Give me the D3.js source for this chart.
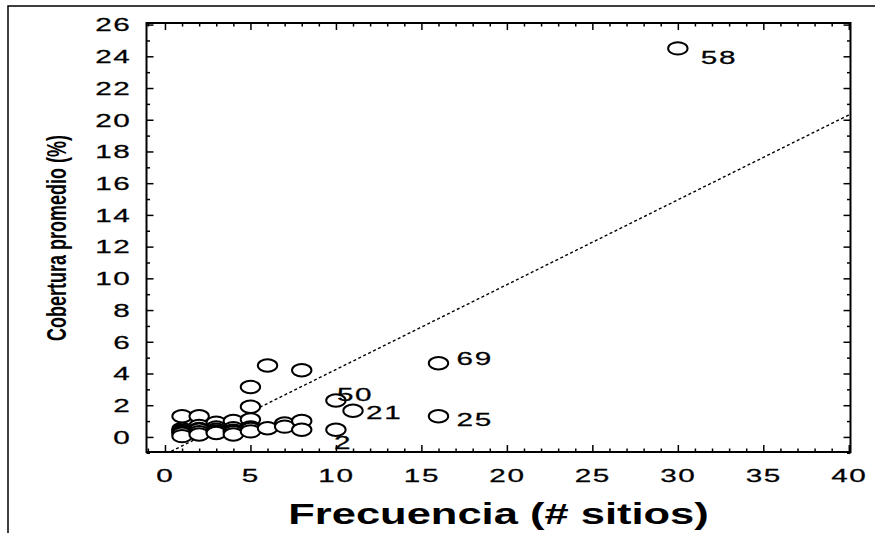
<!DOCTYPE html>
<html>
<head>
<meta charset="utf-8">
<script src="https://cdn.jsdelivr.net/npm/d3@7"></script>
<style>
  body { margin: 0; background: #fff; }
  text { font-family: "Liberation Sans", Arial, Helvetica, sans-serif; fill: #000; }
</style>
</head>
<body>
<div id="chart"></div>
<script>
const width = 875;
const height = 533;

// datos: frecuencia (# sitios) y cobertura promedio (%)
const frecuencia = [1, 1, 1, 1, 1, 1, 1,
  2, 2, 2, 2, 2, 2,
  3, 3, 3, 3, 3,
  4, 4, 4, 4, 4,
  5, 5, 5, 5, 5, 5,
  6, 6,
  7, 7,
  8, 8, 8,
  10, 10, 11, 16, 16, 30];
const cobertura = [1.3, 0.5, 0.4, 0.35, 0.3, 0.2, 0.05,
  1.3, 0.7, 0.5, 0.45, 0.3, 0.15,
  0.9, 0.6, 0.45, 0.35, 0.25,
  1.0, 0.55, 0.4, 0.3, 0.15,
  3.15, 1.9, 1.1, 0.6, 0.5, 0.35,
  4.5, 0.55,
  0.85, 0.65,
  4.2, 1.0, 0.45,
  2.3, 0.45, 1.65, 4.65, 1.3, 24.5];

// especies etiquetadas
const etiquetas = ["58", "69", "25", "50", "21", "2"];
const etiquetaX = [30, 16, 16, 10, 11, 10];
const etiquetaY = [24.5, 4.65, 1.3, 2.3, 1.65, 0.45];

// recta de regresion
const pendiente = 0.535;
const intercepto = -1.1;

const xTicks = d3.range(0, 41, 5);
const yTicks = d3.range(0, 27, 2);

const SX = 1.45; // estiramiento horizontal del texto
const SXN = 1.65; // estiramiento de los numeros

const svg = d3.select("#chart")
  .append("svg")
  .attr("width", width)
  .attr("height", height);

// marco exterior
svg.append("path")
  .attr("d", `M8,${height} L8,6 L${width},6`)
  .attr("fill", "none")
  .attr("stroke", "#000")
  .attr("stroke-width", 1.5);

const plot = { left: 146.5, top: 23, right: 850.5, bottom: 452 };

const x = d3.scaleLinear().domain([-1.08, 40.1]).range([plot.left, plot.right]);
const y = d3.scaleLinear().domain([-0.95, 26.1]).range([plot.bottom, plot.top]);

const minorX = d3.range(-1, 41).filter(d => d % 5 !== 0);
const minorY = d3.range(-1, 27).filter(d => d % 2 !== 0);

function tickAxis(axisFn, scale, values, size, pos) {
  const g = svg.append("g")
    .attr("transform", pos)
    .call(axisFn(scale).tickValues(values).tickSize(-size).tickSizeOuter(0).tickFormat(""));
  g.select(".domain").remove();
  g.selectAll("line").attr("stroke", "#000").attr("stroke-width", 1.5);
  return g;
}

// ticks mayores y menores en los cuatro lados
const gx = tickAxis(d3.axisBottom, x, xTicks, 7, `translate(0,${plot.bottom})`);
tickAxis(d3.axisBottom, x, minorX, 3.5, `translate(0,${plot.bottom})`);
tickAxis(d3.axisTop, x, xTicks, 7, `translate(0,${plot.top})`);
tickAxis(d3.axisTop, x, minorX, 3.5, `translate(0,${plot.top})`);
const gy = tickAxis(d3.axisLeft, y, yTicks, 7, `translate(${plot.left},0)`);
tickAxis(d3.axisLeft, y, minorY, 3.5, `translate(${plot.left},0)`);
tickAxis(d3.axisRight, y, yTicks, 7, `translate(${plot.right},0)`);
tickAxis(d3.axisRight, y, minorY, 3.5, `translate(${plot.right},0)`);

function numStyle(sel) {
  sel.attr("dy", "0.35em")
    .attr("font-size", 18)
    .attr("letter-spacing", 1)
    .attr("fill", "#000")
    .attr("stroke", "#000")
    .attr("stroke-width", 0.25);
}

// etiquetas de los ticks
gx.selectAll(".tick").append("text")
  .attr("transform", `translate(0,24) scale(${SXN},1)`)
  .attr("text-anchor", "middle")
  .call(numStyle)
  .text(d => d);

gy.selectAll(".tick").append("text")
  .attr("transform", `translate(-15,0) scale(${SXN},1)`)
  .attr("text-anchor", "end")
  .call(numStyle)
  .text(d => d);

// recta de regresion (recortada al area del grafico)
svg.append("clipPath").attr("id", "clip")
  .append("rect")
  .attr("x", plot.left).attr("y", plot.top)
  .attr("width", plot.right - plot.left).attr("height", plot.bottom - plot.top);

const x0 = x.domain()[0], x1 = x.domain()[1];
svg.append("line")
  .attr("clip-path", "url(#clip)")
  .attr("x1", x(x0)).attr("y1", y(pendiente * x0 + intercepto))
  .attr("x2", x(x1)).attr("y2", y(pendiente * x1 + intercepto))
  .attr("stroke", "#000")
  .attr("stroke-width", 1.4)
  .attr("stroke-dasharray", "3,2.5");

// puntos
svg.append("g")
  .selectAll("ellipse")
  .data(frecuencia.map((f, i) => ({ f, c: cobertura[i] })))
  .enter()
  .append("ellipse")
  .attr("cx", d => x(d.f))
  .attr("cy", d => y(d.c))
  .attr("rx", 9.7)
  .attr("ry", 6.2)
  .attr("fill", "#fff")
  .attr("stroke", "#000")
  .attr("stroke-width", 2);

// etiquetas de puntos
const desplazamiento = {
  "58": [23, 9], "69": [18, -4], "25": [18, 3],
  "50": [1, -6], "21": [13, 2], "2": [-2, 13]
};
svg.append("g")
  .selectAll("text")
  .data(etiquetas.map((e, i) => ({ e, f: etiquetaX[i], c: etiquetaY[i] })))
  .enter()
  .append("text")
  .attr("transform", d => `translate(${x(d.f) + desplazamiento[d.e][0]},${y(d.c) + desplazamiento[d.e][1]}) scale(${SXN},1)`)
  .call(numStyle)
  .text(d => d.e);

// marco del grafico
svg.append("rect")
  .attr("x", plot.left).attr("y", plot.top)
  .attr("width", plot.right - plot.left).attr("height", plot.bottom - plot.top)
  .attr("fill", "none")
  .attr("stroke", "#000")
  .attr("stroke-width", 2);

// titulos de los ejes
svg.append("text")
  .attr("transform", `translate(${(plot.left + plot.right) / 2},524) scale(${SX},1)`)
  .attr("text-anchor", "middle")
  .attr("font-size", 30)
  .attr("font-weight", "bold")
  .text("Frecuencia (# sitios)");

svg.append("text")
  .attr("transform", `translate(66,238) scale(1.5,1) rotate(-90)`)
  .attr("text-anchor", "middle")
  .attr("font-size", 18)
  .attr("font-weight", "bold")
  .text("Cobertura promedio (%)");
</script>
</body>
</html>
